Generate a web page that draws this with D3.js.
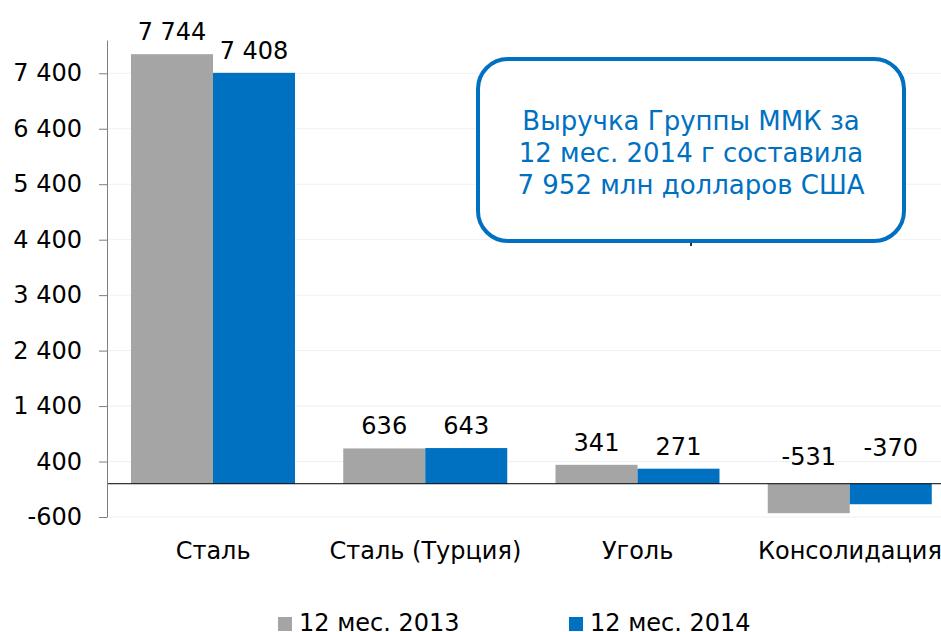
<!DOCTYPE html>
<html>
<head>
<meta charset="utf-8">
<script src="https://cdn.jsdelivr.net/npm/d3@7"></script>
<style>
  body { margin: 0; background: #fff; }
  svg { font-family: "DejaVu Sans", Verdana, sans-serif; }
</style>
</head>
<body>
<div id="chart"></div>
<script>
// data
var categories = ["Сталь", "Сталь (Турция)", "Уголь", "Консолидация"];
var seriesNames = ["12 мес. 2013", "12 мес. 2014"];
var values2013 = [7744, 636, 341, -531];
var values2014 = [7408, 643, 271, -370];
var yTicks = [-600, 400, 1400, 2400, 3400, 4400, 5400, 6400, 7400];
var noteLines = ["Выручка Группы ММК за", "12 мес. 2014 г составила", "7 952 млн долларов США"];

var colors = ["#a5a5a5", "#0070c0"];

var width = 941, height = 632;
var plotLeft = 107, plotTop = 40, plotBottom = 517;

var svg = d3.select("#chart")
  .append("svg")
    .attr("width", width)
    .attr("height", height);

var fmt = d3.formatLocale({decimal: ",", thousands: " ", grouping: [3], currency: ["", ""], minus: "-"}).format(",d");

// scales
var y = d3.scaleLinear()
  .domain([-600, 8000])
  .range([plotBottom, plotTop]);

var x0 = d3.scaleBand()
  .domain(categories)
  .range([plotLeft, plotLeft + 4 * 212.25]);

var x1 = d3.scaleBand()
  .domain(seriesNames)
  .range([24, 188]);

// faint grid lines
svg.append("g")
  .selectAll("line")
  .data(yTicks)
  .enter()
  .append("line")
    .attr("x1", plotLeft)
    .attr("x2", width)
    .attr("y1", function(d) { return y(d); })
    .attr("y2", function(d) { return y(d); })
    .attr("stroke", "#f0f0f0")
    .attr("stroke-width", 1);

// bars
var rows = categories.map(function(c, i) {
  return {cat: c, vals: [values2013[i], values2014[i]]};
});

var groups = svg.selectAll("g.cat")
  .data(rows)
  .enter()
  .append("g")
    .attr("class", "cat")
    .attr("transform", function(d) { return "translate(" + x0(d.cat) + ",0)"; });

groups.selectAll("rect")
  .data(function(d) { return d.vals.map(function(v, j) { return {v: v, s: seriesNames[j], j: j}; }); })
  .enter()
  .append("rect")
    .attr("x", function(d) { return x1(d.s); })
    .attr("width", x1.bandwidth())
    .attr("y", function(d) { return Math.min(y(d.v), y(0)); })
    .attr("height", function(d) { return Math.abs(y(d.v) - y(0)); })
    .style("fill", function(d) { return colors[d.j]; });

// value labels
groups.selectAll("text")
  .data(function(d) { return d.vals.map(function(v, j) { return {v: v, s: seriesNames[j]}; }); })
  .enter()
  .append("text")
    .attr("x", function(d) { return x1(d.s) + x1.bandwidth() / 2; })
    .attr("y", function(d) { return d.v >= 0 ? y(d.v) - 14 : y(d.v) - 48; })
    .attr("text-anchor", "middle")
    .style("font-size", "24px")
    .style("fill", "#000")
    .text(function(d) { return fmt(d.v); });

// zero line
svg.append("line")
  .attr("x1", plotLeft)
  .attr("x2", width)
  .attr("y1", y(0))
  .attr("y2", y(0))
  .attr("stroke", "#000")
  .attr("stroke-width", 1);

// y axis
var yAxis = svg.append("g")
  .attr("transform", "translate(" + plotLeft + ",0)")
  .call(d3.axisLeft(y).tickValues(yTicks).tickFormat(fmt).tickSize(8).tickSizeOuter(0).tickPadding(17));

yAxis.select(".domain").attr("stroke", "#7f7f7f");
yAxis.selectAll(".tick line").attr("stroke", "#7f7f7f");
yAxis.selectAll(".tick text")
  .style("font-size", "24px")
  .style("font-family", "DejaVu Sans, Verdana, sans-serif")
  .style("fill", "#000");

// category labels
svg.append("g")
  .selectAll("text")
  .data(categories)
  .enter()
  .append("text")
    .attr("x", function(d) { return x0(d) + x0.bandwidth() / 2; })
    .attr("y", 559)
    .attr("text-anchor", "middle")
    .style("font-size", "24px")
    .text(function(d) { return d; });

// legend
var legendX = [278, 569];
var legend = svg.append("g")
  .selectAll("g")
  .data(seriesNames)
  .enter()
  .append("g")
    .attr("transform", function(d, i) { return "translate(" + legendX[i] + ",617)"; });

legend.append("rect")
  .attr("width", 14)
  .attr("height", 14)
  .style("fill", function(d, i) { return colors[i]; });

legend.append("text")
  .attr("x", 21)
  .attr("y", 14)
  .style("font-size", "24px")
  .text(function(d) { return d; });

// callout box
svg.append("line")
  .attr("x1", 691).attr("x2", 691)
  .attr("y1", 239).attr("y2", 246)
  .attr("stroke", "#333")
  .attr("stroke-width", 2);

svg.append("rect")
  .attr("x", 478)
  .attr("y", 59)
  .attr("width", 426)
  .attr("height", 182)
  .attr("rx", 30)
  .attr("ry", 30)
  .attr("fill", "#fff")
  .attr("stroke", "#0070c0")
  .attr("stroke-width", 4);

svg.append("text")
  .attr("text-anchor", "middle")
  .style("font-size", "26px")
  .style("fill", "#0070c0")
  .selectAll("tspan")
  .data(noteLines)
  .enter()
  .append("tspan")
    .attr("x", 691)
    .attr("y", function(d, i) { return 130 + i * 32; })
    .text(function(d) { return d; });
</script>
</body>
</html>
